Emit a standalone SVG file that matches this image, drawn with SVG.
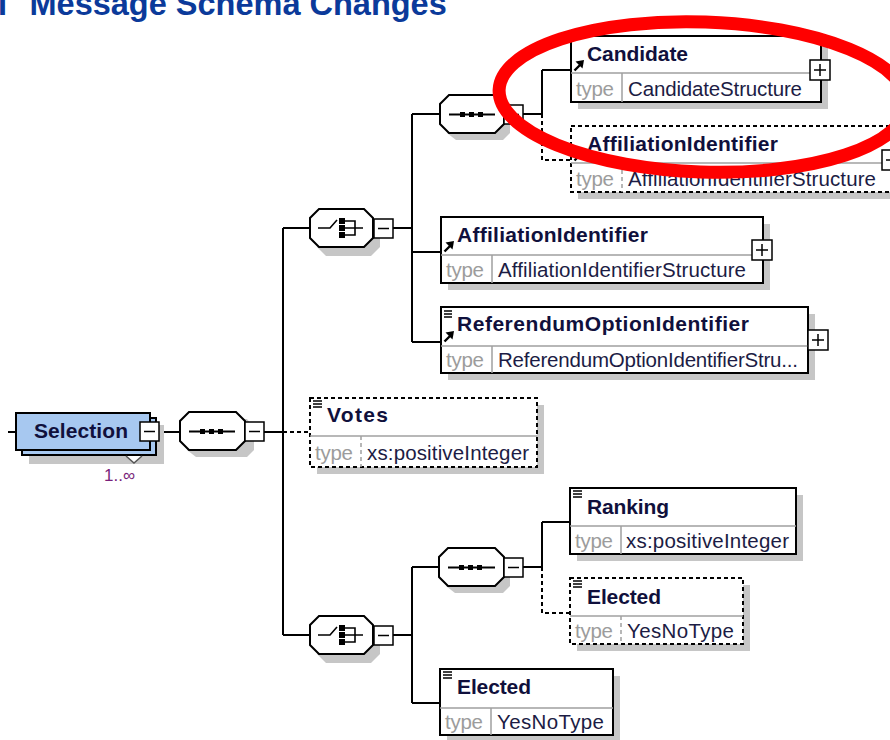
<svg xmlns="http://www.w3.org/2000/svg" width="890" height="740" viewBox="0 0 890 740">
<defs>
<style>
.bx{fill:#fff;stroke:#000;stroke-width:2}
.dbx{fill:#fff;stroke:#000;stroke-width:2;stroke-dasharray:4 3}
.sh{fill:#c6c6c6}
.sep{stroke:#a0a0a0;stroke-width:1.5}
.ln{stroke:#000;stroke-width:2;fill:none}
.dl{stroke:#000;stroke-width:2;stroke-dasharray:4 3;fill:none}
.pb{fill:#fff;stroke:#000;stroke-width:1.5}
.pl{stroke:#000;stroke-width:1.5}
.nm{font-family:"Liberation Sans",Arial,sans-serif;font-weight:bold;font-size:21px;fill:#10103c}
.tp{font-family:"Liberation Sans",Arial,sans-serif;font-size:20.5px;fill:#9c9c9c}
.vl{font-family:"Liberation Sans",Arial,sans-serif;font-size:20.5px;fill:#1c1c44}
.ic{stroke:#000;stroke-width:1.6}
.ar{stroke:#000;stroke-width:2.4}
.dot{fill:#000}
</style>
</defs>
<rect width="890" height="740" fill="#fff"/>
<g id="title">
<text x="-2" y="15" style="font-family:'Liberation Sans',Arial,sans-serif;font-weight:bold;font-size:32.5px;fill:#0b3a9a">I</text>
<text x="29.5" y="15" style="font-family:'Liberation Sans',Arial,sans-serif;font-weight:bold;font-size:32.5px;fill:#0b3a9a">Message Schema Changes</text>
</g>
<g id="connectors">
<path class="ln" d="M8,432H16M159,432H180M264,432H283M283,228V635M283,228H310M283,635H310"/>
<path class="dl" d="M283,432H310"/>
<path class="ln" d="M393,228H412M412,114V342M412,114H440M412,252H441M412,342H441"/>
<path class="ln" d="M523,114H542M542,70V114M542,70H571"/>
<path class="dl" d="M542,114V160H571"/>
<path class="ln" d="M393,635H412M412,567V703M412,567H439M412,703H440"/>
<path class="ln" d="M523,567H542M542,522V567M542,522H570"/>
<path class="dl" d="M542,567V613H570"/>
</g>
<g id="Selection">
<rect class="sh" x="29" y="425" width="135" height="39"/>
<rect x="22" y="418" width="134" height="37" fill="#a7c8f0" stroke="#000" stroke-width="2"/>
<rect x="16" y="413" width="134" height="37" fill="#a7c8f0" stroke="#000" stroke-width="2"/>
<polyline points="126,456 134,463 142,456" fill="#fff" stroke="#555" stroke-width="1.5"/>
<text class="nm" x="34" y="438" textLength="94">Selection</text>
<rect class="pb" x="140" y="422" width="19" height="19"/>
<path class="pl" d="M144,431.5H155"/>
<text x="104" y="481" style="font-family:'Liberation Sans',Arial,sans-serif;font-size:17px;fill:#7a1f7a">1..∞</text>
</g>
<g id="seqMain">
<path class="sh" d="M196,419H247L254,428V450L247,457H196L187,450V428Z"/>
<path class="bx" d="M189,412H236L245,421V441L236,450H189L180,441V421Z"/>
<path class="ln" d="M189,431.5H235"/>
<rect class="dot" x="200" y="429" width="5" height="5"/><rect class="dot" x="209" y="429" width="5" height="5"/><rect class="dot" x="218" y="429" width="5" height="5"/>
<rect class="pb" x="245" y="422" width="19" height="19"/>
<path class="pl" d="M249,431.5H260"/>
</g>
<g id="choice1">
<path class="sh" d="M326,216H371L380,225V247L371,256H326L317,247V225Z"/>
<path class="bx" d="M319,209H364L373,218V238L364,247H319L310,238V218Z"/>
<path class="ic" d="M318,228H330L337,220M345,221H355V235H345M345,228H363" fill="none"/>
<rect class="dot" x="339" y="218" width="6" height="6"/><rect class="dot" x="339" y="225" width="6" height="6"/><rect class="dot" x="339" y="232" width="6" height="6"/>
<rect class="pb" x="374" y="219" width="19" height="19"/>
<path class="pl" d="M378,228.5H389"/>
</g>
<g id="choice2">
<path class="sh" d="M326,623H371L380,632V654L371,663H326L317,654V632Z"/>
<path class="bx" d="M319,616H364L373,625V645L364,654H319L310,645V625Z"/>
<path class="ic" d="M318,635H330L337,627M345,628H355V642H345M345,635H363" fill="none"/>
<rect class="dot" x="339" y="625" width="6" height="6"/><rect class="dot" x="339" y="632" width="6" height="6"/><rect class="dot" x="339" y="639" width="6" height="6"/>
<rect class="pb" x="374" y="626" width="19" height="19"/>
<path class="pl" d="M378,635.5H389"/>
</g>
<g id="seq1">
<path class="sh" d="M456,102H503L510,111V133L503,140H456L447,133V111Z"/>
<path class="bx" d="M449,95H495L504,104V124L495,133H449L440,124V104Z"/>
<path class="ln" d="M449,114.5H495"/>
<rect class="dot" x="460" y="112" width="5" height="5"/><rect class="dot" x="469" y="112" width="5" height="5"/><rect class="dot" x="478" y="112" width="5" height="5"/>
<rect class="pb" x="504" y="105" width="19" height="19"/>
<path class="pl" d="M508,114.5H519"/>
</g>
<g id="seq2">
<path class="sh" d="M455,555H503L510,564V586L503,593H455L446,586V564Z"/>
<path class="bx" d="M448,548H495L504,557V577L495,586H448L439,577V557Z"/>
<path class="ln" d="M448,567.5H495"/>
<rect class="dot" x="459" y="565" width="5" height="5"/><rect class="dot" x="468" y="565" width="5" height="5"/><rect class="dot" x="477" y="565" width="5" height="5"/>
<rect class="pb" x="504" y="558" width="19" height="19"/>
<path class="pl" d="M508,567.5H519"/>
</g>
<g id="Candidate">
<rect class="sh" x="578" y="43" width="250" height="66"/>
<rect class="bx" x="571" y="36" width="250" height="66"/>
<path class="sep" d="M571,73H821M622,73V102"/>
<path class="ar" d="M574.5,70.5L580,65"/><polygon points="584,60 575.5,61.5 582.5,68.5"/>
<text class="nm" x="587" y="61" textLength="101">Candidate</text>
<text class="tp" x="576" y="96" textLength="38">type</text>
<text class="vl" x="628" y="96" textLength="174">CandidateStructure</text>
<rect class="pb" x="810" y="60" width="20" height="20"/>
<path class="pl" d="M814,70H826M820,64V76"/>
</g>
<g id="AffiliationIdentifierOpt">
<rect class="sh" x="578" y="133" width="322" height="66"/>
<rect class="dbx" x="571" y="126" width="322" height="66"/>
<path class="sep" d="M571,163H893"/>
<path class="sep" stroke-dasharray="4 3" d="M622,163V192"/>
<path class="ar" d="M574.5,160.5L580,155"/><polygon points="584,150 575.5,151.5 582.5,158.5"/>
<text class="nm" x="587" y="151" textLength="191">AffiliationIdentifier</text>
<text class="tp" x="576" y="186" textLength="38">type</text>
<text class="vl" x="628" y="186" textLength="248">AffiliationIdentifierStructure</text>
<rect class="pb" x="882" y="150" width="20" height="20"/>
<path class="pl" d="M886,160H898M892,154V166"/>
</g>
<g id="AffiliationIdentifier">
<rect class="sh" x="448" y="224" width="322" height="66"/>
<rect class="bx" x="441" y="217" width="322" height="66"/>
<path class="sep" d="M441,255H763M492,255V283"/>
<path class="ar" d="M444.5,251.5L450,246"/><polygon points="454,241 445.5,242.5 452.5,249.5"/>
<text class="nm" x="457" y="242" textLength="191">AffiliationIdentifier</text>
<text class="tp" x="446" y="277" textLength="38">type</text>
<text class="vl" x="498" y="277" textLength="248">AffiliationIdentifierStructure</text>
<rect class="pb" x="752" y="240" width="20" height="20"/>
<path class="pl" d="M756,250H768M762,244V256"/>
</g>
<g id="ReferendumOptionIdentifier">
<rect class="sh" x="448" y="314" width="367" height="66"/>
<rect class="bx" x="441" y="307" width="367" height="66"/>
<path class="sep" d="M441,346H808M492,346V373"/>
<path class="ic" d="M444,311H452M444,314H452M444,317H452"/>
<path class="ar" d="M444.5,341.5L450,336"/><polygon points="454,331 445.5,332.5 452.5,339.5"/>
<text class="nm" x="457" y="331" textLength="292">ReferendumOptionIdentifier</text>
<text class="tp" x="446" y="367" textLength="38">type</text>
<text class="vl" x="498" y="367" textLength="300">ReferendumOptionIdentifierStru...</text>
<rect class="pb" x="808" y="330" width="20" height="20"/>
<path class="pl" d="M812,340H824M818,334V346"/>
</g>
<g id="Votes">
<rect class="sh" x="317" y="405" width="227" height="69"/>
<rect class="dbx" x="310" y="398" width="227" height="69"/>
<path class="sep" d="M310,436H537"/>
<path class="sep" stroke-dasharray="4 3" d="M361,436V467"/>
<path class="ic" d="M313,401H322M313,404H322M313,407H322"/>
<text class="nm" x="327" y="422" textLength="61">Votes</text>
<text class="tp" x="315" y="460" textLength="38">type</text>
<text class="vl" x="367" y="460" textLength="162">xs:positiveInteger</text>
</g>
<g id="Ranking">
<rect class="sh" x="577" y="495" width="226" height="66"/>
<rect class="bx" x="570" y="488" width="226" height="66"/>
<path class="sep" d="M570,526H796M621,526V554"/>
<path class="ic" d="M573,491H582M573,494H582M573,497H582"/>
<text class="nm" x="587" y="514" textLength="82">Ranking</text>
<text class="tp" x="575" y="548" textLength="38">type</text>
<text class="vl" x="626" y="548" textLength="163">xs:positiveInteger</text>
</g>
<g id="ElectedOpt">
<rect class="sh" x="577" y="585" width="173" height="66"/>
<rect class="dbx" x="570" y="578" width="173" height="66"/>
<path class="sep" d="M570,616H743"/>
<path class="sep" stroke-dasharray="4 3" d="M621,616V644"/>
<path class="ic" d="M573,581H582M573,584H582M573,587H582"/>
<text class="nm" x="587" y="604" textLength="74">Elected</text>
<text class="tp" x="575" y="638" textLength="38">type</text>
<text class="vl" x="627" y="638" textLength="107">YesNoType</text>
</g>
<g id="Elected">
<rect class="sh" x="447" y="676" width="173" height="66"/>
<rect class="bx" x="440" y="669" width="173" height="66"/>
<path class="sep" d="M440,708H613M491,708V735"/>
<path class="ic" d="M443,672H452M443,675H452M443,678H452"/>
<text class="nm" x="457" y="694" textLength="74">Elected</text>
<text class="tp" x="445" y="729" textLength="38">type</text>
<text class="vl" x="497" y="729" textLength="107">YesNoType</text>
</g>
<g id="highlight">
<ellipse cx="703" cy="97" rx="204" ry="75" transform="rotate(2 703 97)" fill="none" stroke="#ff0000" stroke-width="13"/>
</g>
</svg>
